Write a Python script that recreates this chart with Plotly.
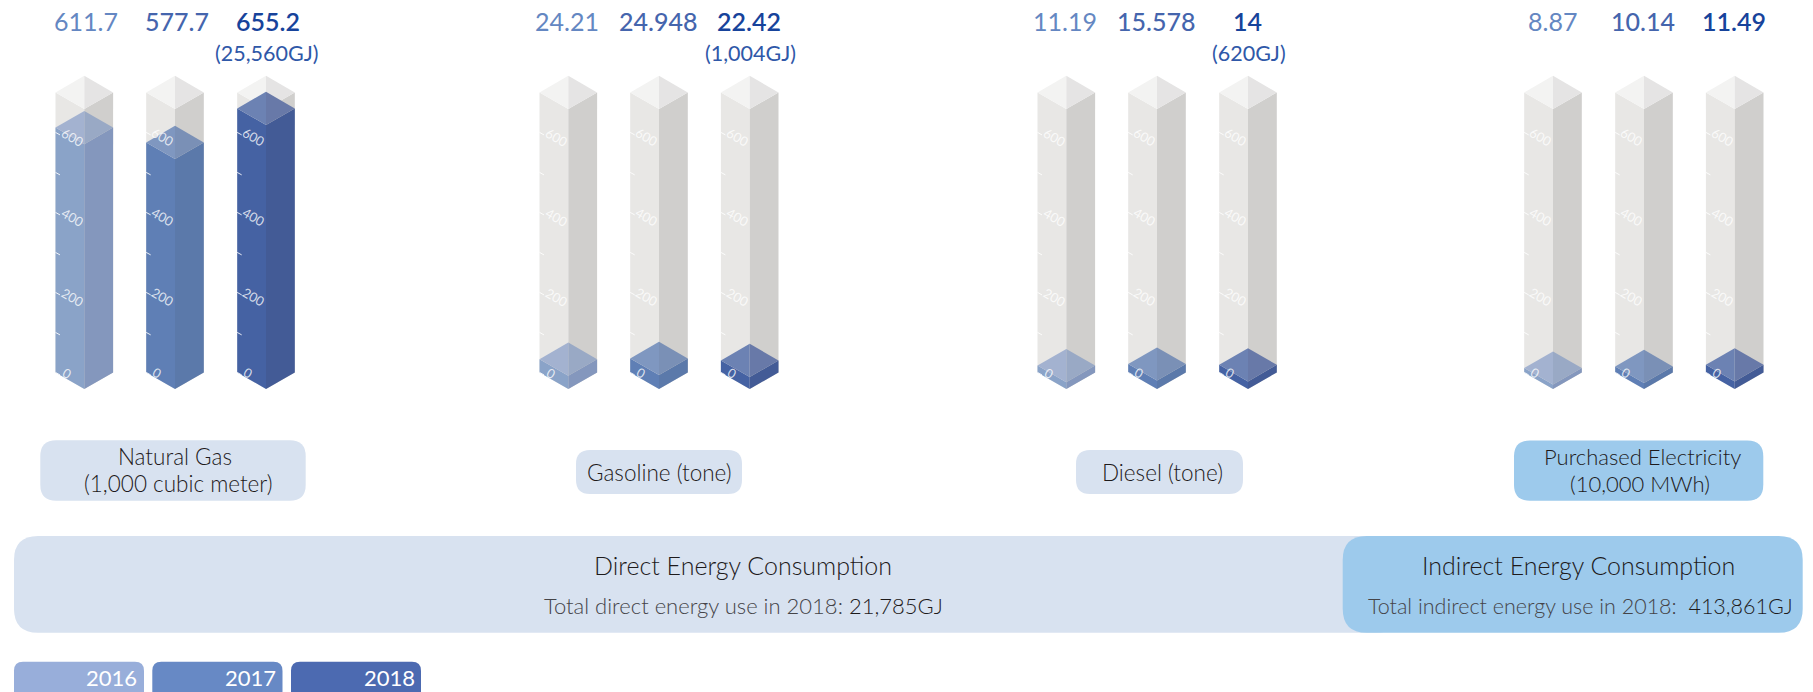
import plotly.graph_objects as go

W, H = 1813, 692
FONT = "Lato"

# ---- data ----
years = ["2016", "2017", "2018"]
groups = ["Natural Gas", "Gasoline", "Diesel", "Purchased Electricity"]
value_labels = [
    ["611.7", "577.7", "655.2"],
    ["24.21", "24.948", "22.42"],
    ["11.19", "15.578", "14"],
    ["8.87", "10.14", "11.49"],
]
gj_labels = ["(25,560GJ)", "(1,004GJ)", "(620GJ)", None]
# level of each fill read against the printed 0-700 gauge
gauge_levels = [
    [612, 575, 660],
    [33, 35, 30],
    [17, 21, 19],
    [11, 15, 19],
]
gauge_ticks = [0, 100, 200, 300, 400, 500, 600]
gauge_labelled = [0, 200, 400, 600]
gauge_top = 700
column_x = [
    [84.3, 175, 266],
    [568.3, 659, 749.7],
    [1066.3, 1157, 1248],
    [1553, 1644, 1734.7],
]

# ---- styling ----
PX_PER_UNIT = 0.4
BASE_PX = 372.4      # pixel row of gauge 0 at the column's side edge
HALF_W = 28.8        # half column width
HALF_D = 16.6        # isometric half depth, pixels
GREY = dict(left="#E8E7E5", right="#D0CFCD", capl="#F3F3F2", capr="#E5E4E4")
FILLS = [
    dict(left="#8AA3C8", right="#8497BD", capl="#A3B2D0", capr="#99A9C5"),
    dict(left="#5F7FB5", right="#5B79AA", capl="#7F97C0", capr="#7A90B6"),
    dict(left="#4562A3", right="#435B96", capl="#6C82B3", capr="#6879A8"),
]
VALUE_COLORS = ["#6487C2", "#4565AD", "#17439B"]
DARK = "#1E1A1B"
MID = "#454448"
PALE = "#D8E2F0"
SKY = "#9DCAEC"
DEPTH_UNITS = HALF_D / PX_PER_UNIT

fig = go.Figure()


def face(xs, ys, color):
    fig.add_trace(go.Scatter(x=xs, y=ys, mode="lines", fill="toself", fillcolor=color,
                             line=dict(width=0, color=color), hoverinfo="skip", showlegend=False))


def box3d(cx, level, style):
    l, c, r = cx - HALF_W, cx, cx + HALF_W
    d = DEPTH_UNITS
    face([l, c, c, l, l], [0, -d, level - d, level, 0], style["left"])
    face([c, r, r, c, c], [-d, 0, level, level - d, -d], style["right"])
    face([l, c, c, l, l], [level, level + d, level - d, level, level], style["capl"])
    face([c, r, c, c], [level + d, level, level - d, level + d], style["capr"])


annotations = []


def px_y(py):
    return 1 - py / H


def label(x, py, text, size, color, anchor="center", weight=None):
    font = dict(family=FONT, size=size, color=color)
    if weight:
        font["weight"] = weight
    annotations.append(dict(x=x / W, y=px_y(py), xref="paper", yref="paper", text=text, showarrow=False,
                            xanchor=anchor, yanchor="middle", font=font, borderpad=0, borderwidth=0))


for gi, xs in enumerate(column_x):
    for yi, cx in enumerate(xs):
        box3d(cx, gauge_top, GREY)
        box3d(cx, gauge_levels[gi][yi], FILLS[yi])
        left = cx - HALF_W
        tx, ty = [], []
        for t in gauge_ticks:
            tx += [left, left + 4.5, None]
            ty += [t, t - 2.5 / PX_PER_UNIT, None]
        fig.add_trace(go.Scatter(x=tx, y=ty, mode="lines", line=dict(color="rgba(255,255,255,0.85)", width=1),
                                 hoverinfo="skip", showlegend=False))
        for t in gauge_labelled:
            dx, dy = (11, 1) if t == 0 else (16.5, 5)
            annotations.append(dict(x=left + dx, y=t - dy / PX_PER_UNIT, xref="x", yref="y", text=str(t),
                                    showarrow=False, textangle=30, xanchor="center", yanchor="middle",
                                    font=dict(family=FONT, size=13, color="rgba(255,255,255,0.78)")))
        label(cx + (1.5 if gi == 0 else -1), 21, value_labels[gi][yi], 25, VALUE_COLORS[yi],
              weight=600 if yi == 2 else 500 if yi == 1 else 400)
    if gj_labels[gi]:
        label(xs[2] + 1, 53, gj_labels[gi], 21.5, "#2F58A8", weight=400)

# ---- rounded boxes ----


def rounded(x0, y0, x1, y1, r, color):
    fx = lambda v: v / W
    fy = lambda v: 1 - v / H
    path = (f"M {fx(x0 + r)} {fy(y0)} L {fx(x1 - r)} {fy(y0)} Q {fx(x1)} {fy(y0)} {fx(x1)} {fy(y0 + r)} "
            f"L {fx(x1)} {fy(y1 - r)} Q {fx(x1)} {fy(y1)} {fx(x1 - r)} {fy(y1)} "
            f"L {fx(x0 + r)} {fy(y1)} Q {fx(x0)} {fy(y1)} {fx(x0)} {fy(y1 - r)} "
            f"L {fx(x0)} {fy(y0 + r)} Q {fx(x0)} {fy(y0)} {fx(x0 + r)} {fy(y0)} Z")
    return dict(type="path", xref="paper", yref="paper", path=path, fillcolor=color,
                line=dict(width=0), layer="below")


shapes = [
    rounded(40.3, 440.3, 305.7, 500.7, 16, PALE),
    rounded(576, 450, 742, 494, 14, PALE),
    rounded(1076, 450, 1243, 494, 14, PALE),
    rounded(1514, 440.5, 1763.3, 500.7, 16, SKY),
    rounded(14, 536, 1400, 632.7, 24, PALE),
    rounded(1342.7, 536, 1802.7, 632.7, 24, SKY),
    rounded(14, 661.7, 144, 700, 9, "#98AEDA"),
    rounded(152.3, 661.7, 282.5, 700, 9, "#6789C5"),
    rounded(291, 661.7, 421, 700, 9, "#4C6AB1"),
]

label(175, 456.7, "Natural Gas", 22.5, DARK, weight=300)
label(178, 483.3, "(1,000 cubic meter)", 22.5, DARK, weight=300)
label(659, 472.7, "Gasoline (tone)", 22.5, DARK, weight=300)
label(1162.7, 472.7, "Diesel (tone)", 22.5, DARK, weight=300)
label(1642, 456.7, "Purchased Electricity", 22, DARK, weight=300)
label(1640, 483.3, "(10,000 MWh)", 22, DARK, weight=300)
label(743, 564.5, "Direct Energy Consumption", 25, DARK, weight=300)
label(743, 605.5, f'<span style="color:{MID}">Total direct energy use in 2018:</span> 21,785GJ', 22, DARK, weight=300)
label(1578, 564.5, "Indirect Energy Consumption", 25, DARK, weight=300)
label(1580, 605.5, f'<span style="color:{MID}">Total indirect energy use in 2018:</span>  413,861GJ', 21.5, DARK, weight=300)

legend_right = [137, 275.5, 414.5]
for yr, xr in zip(years, legend_right):
    label(xr, 677, yr, 22, "#FFFFFF", anchor="right")

fig.update_layout(
    width=W, height=H, margin=dict(l=0, r=0, t=0, b=0),
    paper_bgcolor="#FFFFFF", plot_bgcolor="rgba(0,0,0,0)", showlegend=False,
    xaxis=dict(range=[0, W], visible=False, fixedrange=True),
    yaxis=dict(range=[-(H - BASE_PX) / PX_PER_UNIT, BASE_PX / PX_PER_UNIT], visible=False, fixedrange=True),
    shapes=shapes, annotations=annotations,
)
fig.write_html("out.html", config=dict(displayModeBar=False),
               post_script="document.body.style.margin='0';document.body.style.overflow='hidden';")
